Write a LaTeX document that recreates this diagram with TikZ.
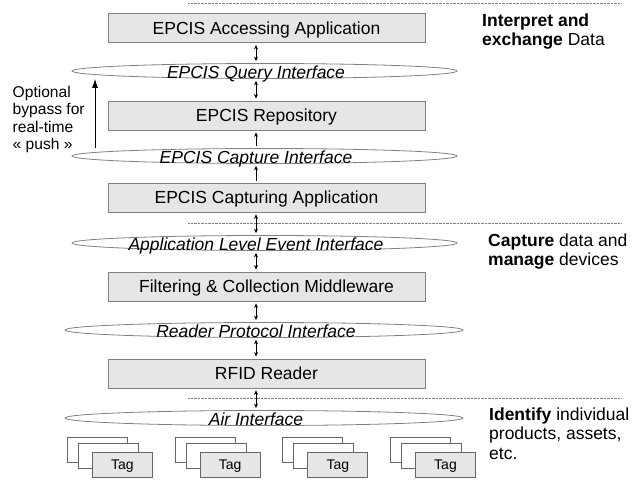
\documentclass[tikz,border=0pt]{standalone}
\usepackage{fontspec}
\setmainfont{Liberation Sans}
\usetikzlibrary{shapes.geometric,arrows.meta,calc}
\definecolor{boxfill}{HTML}{E6E6E6}
\definecolor{edgegray}{HTML}{808080}
\definecolor{dotgray}{HTML}{7F7F7F}
\begin{document}
\begin{tikzpicture}[x=1pt,y=-1pt,
  layerbox/.style={draw=edgegray, fill=boxfill, line width=0.8pt, minimum width=317pt, minimum height=29pt, inner sep=0pt, font=\fontsize{17.5}{20}\selectfont, text height=12.5pt, text depth=0pt},
  iface/.style={ellipse, draw=edgegray, fill=white, line width=0.8pt, minimum width=385pt, minimum height=15pt, inner sep=0pt},
  ifacewide/.style={iface, minimum width=398pt},
  ifacetxt/.style={font=\fontsize{17.5}{20}\selectfont\itshape, inner sep=0pt, text height=12.5pt, text depth=0pt},
  conn/.style={{Stealth[length=4.5pt,width=4pt]}-{Stealth[length=4.5pt,width=4pt]}, line width=0.6pt, shorten <=2pt, shorten >=2pt},
  upconn/.style={-{Stealth[length=4.5pt,width=4pt]}, line width=0.6pt, shorten <=2pt, shorten >=2pt},
  sep/.style={draw=dotgray, line width=0.7pt, dash pattern=on 0.7pt off 0.7pt},
  tagback/.style={draw=edgegray!80!black, fill=white, line width=0.8pt, minimum width=60pt, minimum height=25pt, inner sep=0pt, anchor=north west},
  tagfront/.style={tagback, fill=boxfill, font=\fontsize{14}{16}\selectfont, text height=10pt, text depth=0pt},
  sidetxt/.style={anchor=north west, align=left, inner sep=0pt, font=\fontsize{17.5}{19.5}\selectfont},
  bypasstxt/.style={anchor=north west, align=left, inner sep=0pt, font=\fontsize{15.6}{17.5}\selectfont}
]
\useasboundingbox (0,0) rectangle (641,481);

% separators
\coordinate (s1a) at (188,3);   \coordinate (s1b) at (622,3);
\coordinate (s2a) at (188,223); \coordinate (s2b) at (622,223);
\coordinate (s3a) at (188,398); \coordinate (s3b) at (622,398);
\draw[sep] (s1a) -- (s1b);
\draw[sep] (s2a) -- (s2b);
\draw[sep] (s3a) -- (s3b);

% layers
\node[layerbox] (b1) at (266.5,28)    {EPCIS Accessing Application};
\node[layerbox] (b2) at (266.5,115.5) {EPCIS Repository};
\node[layerbox] (b3) at (266.5,197.5) {EPCIS Capturing Application};
\node[layerbox] (b4) at (266.5,286.5) {Filtering \& Collection Middleware};
\node[layerbox] (b5) at (266.5,373.5) {RFID Reader};

% interfaces
\node[iface] (e1) at (264.5,71) {};
\node[iface] (e2) at (264.5,156) {};
\node[iface] (e3) at (264.5,243) {};
\node[ifacewide] (e4) at (264,330) {};
\node[ifacewide] (e5) at (264,418) {};
\node[ifacetxt] (t1) at (256,72.5)  {EPCIS Query Interface};
\node[ifacetxt] (t2) at (256,157.5) {EPCIS Capture Interface};
\node[ifacetxt] (t3) at (256,244.5) {Application Level Event Interface};
\node[ifacetxt] (t4) at (256,331.5) {Reader Protocol Interface};
\node[ifacetxt] (t5) at (256,419.5) {Air Interface};

% connectors
\draw[conn] (b1.south -| t1.center) -- (t1.center |- e1.north);
\draw[conn] (t1.center |- e1.south) -- (b2.north -| t1.center);
\draw[upconn] (t2.center |- e2.north) -- (b2.south -| t2.center);
\draw[upconn] (b3.north -| t2.center) -- (t2.center |- e2.south);
\draw[conn] (b3.south -| t3.center) -- (t3.center |- e3.north);
\draw[conn] (t3.center |- e3.south) -- (b4.north -| t3.center);
\draw[conn] (b4.south -| t4.center) -- (t4.center |- e4.north);
\draw[conn] (t4.center |- e4.south) -- (b5.north -| t4.center);
\draw[conn] (b5.south -| t5.center) -- (t5.center |- e5.north);

% bypass
\coordinate (bpx) at (95,0);
\draw[-{Latex[length=9pt,width=6pt]}, line width=0.8pt] (e2.north -| bpx) -- (e1.south -| bpx);
\node[bypasstxt] (bypass) at (12.5,85.7) {Optional\\bypass for\\real-time\\« push »};

% side labels
\node[sidetxt] (r1) at (482,13.4)  {\textbf{Interpret and}\\\textbf{exchange} Data};
\node[sidetxt] (r2) at (488,233.4) {\textbf{Capture} data and\\\textbf{manage} devices};
\node[sidetxt] (r3) at (489,407.4) {\textbf{Identify} individual\\products, assets,\\etc.};

% tags
\foreach \i/\gx in {1/67, 2/174.7, 3/282.4, 4/390.1} {
  \node[tagback] (tagA\i) at (\gx,437) {};
  \node[tagback] (tagB\i) at (\gx+11,443) {};
  \node[tagfront] (tagC\i) at (\gx+25,452) {Tag};
}
\end{tikzpicture}
\end{document}
